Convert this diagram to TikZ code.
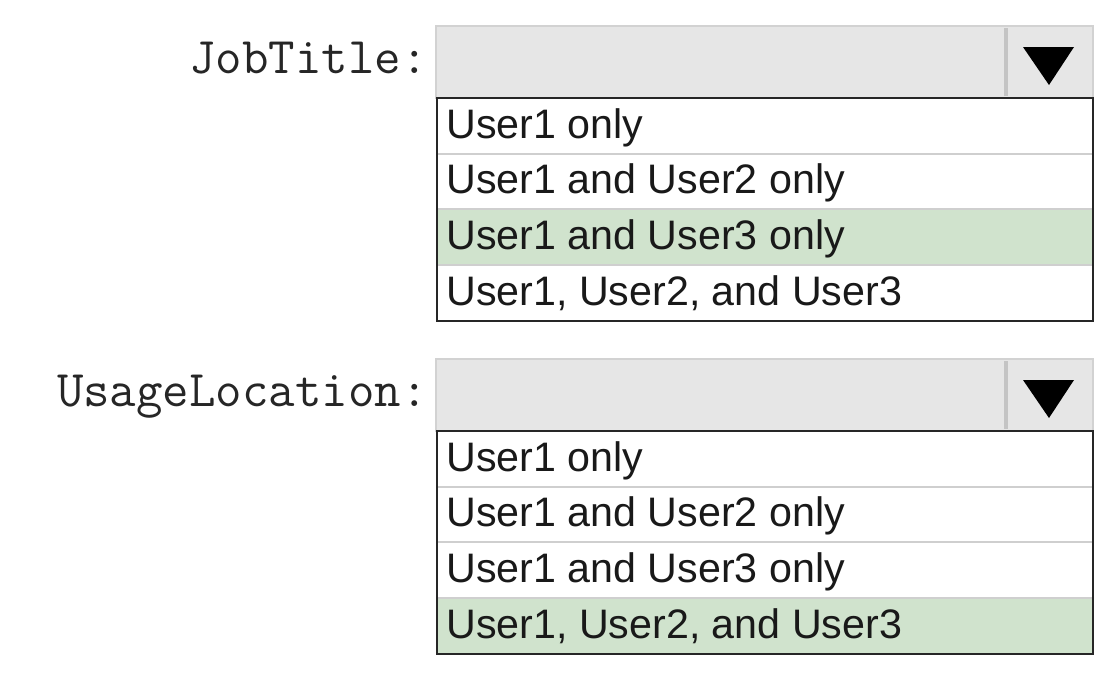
\documentclass[tikz,border=0pt]{standalone}
\usepackage{fontspec}
\setmainfont{Liberation Sans}

\definecolor{hdrgrey}{HTML}{E6E6E6}
\definecolor{hdrline}{HTML}{D2D2D2}
\definecolor{btnline}{HTML}{C4C4C4}
\definecolor{rowline}{HTML}{CFCFCF}
\definecolor{pickgreen}{HTML}{D0E3CD}

\tikzset{
  fieldlabel/.style={anchor=base east, inner sep=0pt, text=black!85, font=\ttfamily\fontsize{25.7}{27}\selectfont},
  optiontext/.style={anchor=base west, inner sep=0pt, text=black!90, font=\fontsize{20.6}{22}\selectfont},
  hdrbox/.style={draw=hdrline, fill=hdrgrey, line width=1pt},
  listbox/.style={draw=black!85, line width=1.2pt},
}

\begin{document}
\begin{tikzpicture}[x=0.5pt,y=-0.5pt]
	\useasboundingbox (0,0) rectangle (1104,680);
	% the two drop-down fields
	\foreach \name/\lbl/\top/\pick in {job/JobTitle:/26/3, usage/UsageLocation:/359/4} {
		\draw [hdrbox] (436,\top) rectangle (1093,\top+72);
		\draw [btnline, line width=1.6pt] (1006,\top+2) -- (1006,\top+70);
		\fill [black] (1023,\top+21) -- (1074,\top+21) -- (1049,\top+59) -- cycle;
		\node [fieldlabel] (\name-lbl) at (428,\top+47) {\lbl};
		% list of choices
		\fill [pickgreen] (437,\top+72+\pick*55.7-55.7) rectangle (1093,\top+72+\pick*55.7);
		\foreach \i in {1,2,3} \draw [rowline, line width=1pt] (437,\top+72+\i*55.7) -- (1093,\top+72+\i*55.7);
		\foreach \i/\opt in {1/User1 only, 2/User1 and User2 only, 3/User1 and User3 only, 4/{User1, User2, and User3}}
			\node [optiontext] (\name-opt\i) at (446,\top+72+\i*55.7-15.5) {\opt};
		\draw [listbox] (437,\top+72) rectangle (1093,\top+72+222.8);
	}
\end{tikzpicture}
\end{document}
